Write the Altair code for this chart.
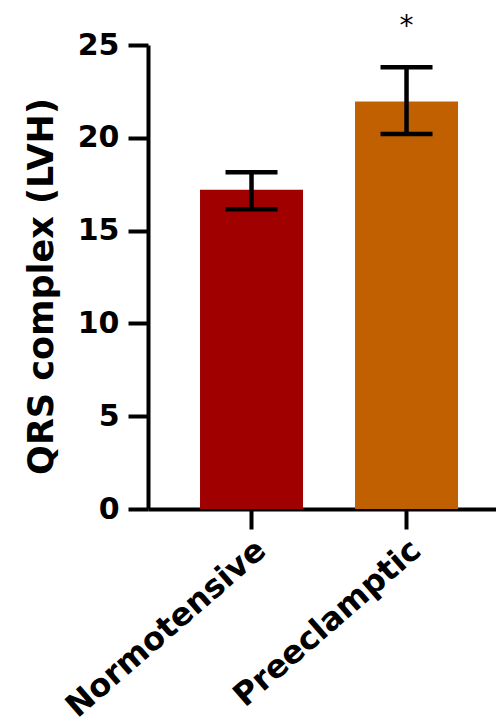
import altair as alt
import pandas as pd

groups = ["Normotensive", "Preeclamptic"]
means = [17.2, 21.95]
err_low = [16.15, 20.2]
err_high = [18.15, 23.8]
marks = ["", "*"]
colors = ["#A00000", "#C06000"]
y_ticks = [0, 5, 10, 15, 20, 25]

df = pd.DataFrame({"group": groups, "mean": means, "lo": err_low, "hi": err_high, "mark": marks})

FONT = "DejaVu Sans"

xscale = alt.Scale(domain=groups, paddingInner=0.3355, paddingOuter=0.2903, align=0.578)
x_enc = alt.X(
    "group:N", sort=groups, scale=xscale,
    axis=alt.Axis(title=None, labelAngle=-41, labelFont=FONT, labelFontWeight="bold",
                  labelFontSize=32, labelColor="black", domainColor="black", domainWidth=4,
                  tickColor="black", tickWidth=4, tickSize=20, labelPadding=5, labelLimit=0),
)
y_enc = alt.Y(
    "mean:Q", scale=alt.Scale(domain=[0, 25], nice=False, zero=True),
    axis=alt.Axis(title="QRS complex (LVH)", values=y_ticks, grid=False, labelFont=FONT,
                  labelFontWeight="bold", labelFontSize=30, labelColor="black",
                  titleFont=FONT, titleFontWeight="bold", titleFontSize=35, titleColor="black",
                  domainColor="black", domainWidth=4, tickColor="black", tickWidth=4,
                  tickSize=20, labelPadding=9, titlePadding=18, titleY=241),
)

base = alt.Chart(df)

bars = base.mark_bar().encode(
    x=x_enc, y=y_enc,
    color=alt.Color("group:N", scale=alt.Scale(domain=groups, range=colors), legend=None),
)
rules = base.mark_rule(color="black", strokeWidth=4.5).encode(
    x=alt.X("group:N", sort=groups), y="lo:Q", y2="hi:Q"
)
cap_hi = base.mark_tick(color="black", thickness=4.5, size=52, opacity=1).encode(
    x=alt.X("group:N", sort=groups), y="hi:Q"
)
cap_lo = base.mark_tick(color="black", thickness=4.5, size=52, opacity=1).encode(
    x=alt.X("group:N", sort=groups), y="lo:Q"
)
stars = base.mark_text(font=FONT, fontSize=28, dy=-32, baseline="alphabetic", color="black").encode(
    x=alt.X("group:N", sort=groups), y="hi:Q", text="mark:N"
)

chart = alt.layer(bars, rules, cap_hi, cap_lo, stars).properties(
    width=348, height=464,
    autosize=alt.AutoSizeParams(type="none"),
    padding={"left": 140, "top": 37, "right": 0, "bottom": 216},
).configure_view(stroke=None)

chart.save("out.html", embed_options={"renderer": "svg", "actions": False})
